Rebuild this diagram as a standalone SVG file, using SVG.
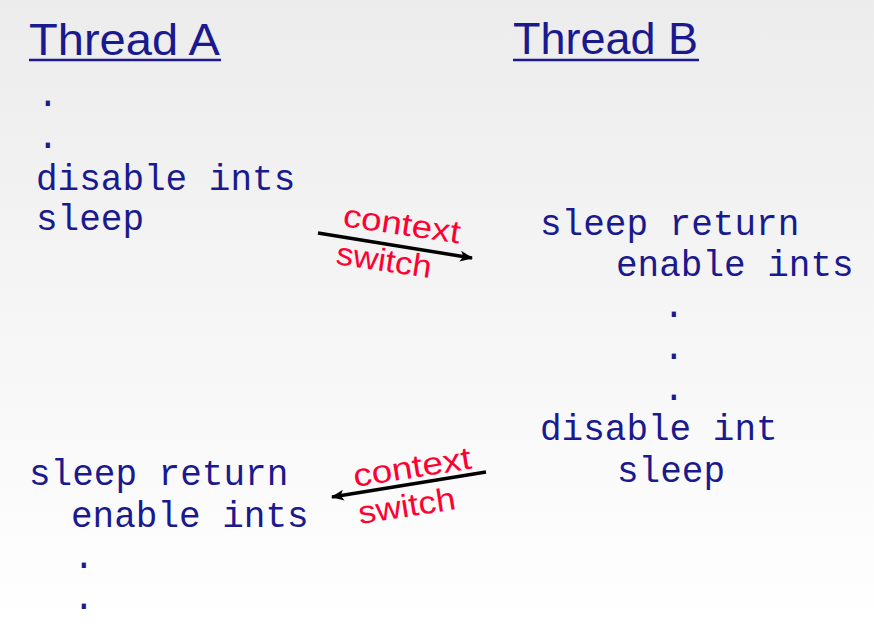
<svg xmlns="http://www.w3.org/2000/svg" width="874" height="634" viewBox="0 0 874 634">
<defs>
<linearGradient id="bg" x1="0" y1="0" x2="0" y2="1">
<stop offset="0" stop-color="#ececec"/>
<stop offset="1" stop-color="#ffffff"/>
</linearGradient>
<marker id="ah" viewBox="0 0 12 10" refX="11" refY="5" markerWidth="13" markerHeight="11" markerUnits="userSpaceOnUse" orient="auto">
<path d="M0,0 L12,5 L0,10 L3,5 Z" fill="#000"/>
</marker>
<style>
.head{font-family:"Liberation Sans","DejaVu Sans",sans-serif;font-size:44px;fill:#1a1a8e}
.code{font-family:"Liberation Mono","DejaVu Sans Mono",monospace;font-size:36px;fill:#1a1a8e}
.red{font-family:"Liberation Sans","DejaVu Sans",sans-serif;font-size:32px;fill:#ff0033}
.ul{stroke:#1a1a8e;stroke-width:2.5}
.arr{stroke:#000;stroke-width:3.5;fill:none}
</style>
</defs>
<rect width="874" height="634" fill="url(#bg)"/>
<g id="threadA-title">
<text class="head" x="29" y="55" textLength="191" lengthAdjust="spacingAndGlyphs">Thread A</text>
<line class="ul" x1="29" y1="60" x2="221" y2="60"/>
</g>
<g id="threadB-title">
<text class="head" x="513" y="54" textLength="185" lengthAdjust="spacingAndGlyphs">Thread B</text>
<line class="ul" x1="513" y1="60" x2="699" y2="60"/>
</g>
<g id="threadA-top">
<text class="code" x="37" y="106">.</text>
<text class="code" x="37" y="148">.</text>
<text class="code" x="36" y="190">disable ints</text>
<text class="code" x="36" y="230">sleep</text>
</g>
<g id="threadB">
<text class="code" x="540" y="235">sleep return</text>
<text class="code" x="616" y="276">enable ints</text>
<text class="code" x="663" y="317">.</text>
<text class="code" x="663" y="359">.</text>
<text class="code" x="663" y="400">.</text>
<text class="code" x="540" y="440">disable int</text>
<text class="code" x="617" y="482">sleep</text>
</g>
<g id="threadA-bottom">
<text class="code" x="29" y="485">sleep return</text>
<text class="code" x="71" y="527">enable ints</text>
<text class="code" x="73" y="568">.</text>
<text class="code" x="73" y="609">.</text>
</g>
<g id="connectors">
<line class="arr" x1="318" y1="233" x2="472" y2="258" marker-end="url(#ah)"/>
<line class="arr" x1="486" y1="472" x2="332" y2="497" marker-end="url(#ah)"/>
</g>
<g id="label-switch-1">
<text class="red" x="342" y="226" transform="rotate(8.5 342 226)" textLength="118" lengthAdjust="spacingAndGlyphs">context</text>
<text class="red" x="335" y="264" transform="rotate(8.4 335 264)" textLength="96" lengthAdjust="spacingAndGlyphs">switch</text>
</g>
<g id="label-switch-2">
<text class="red" x="355" y="487" transform="rotate(-9 355 487)" textLength="119" lengthAdjust="spacingAndGlyphs">context</text>
<text class="red" x="360" y="524" transform="rotate(-8.8 360 524)" textLength="98" lengthAdjust="spacingAndGlyphs">switch</text>
</g>
</svg>
